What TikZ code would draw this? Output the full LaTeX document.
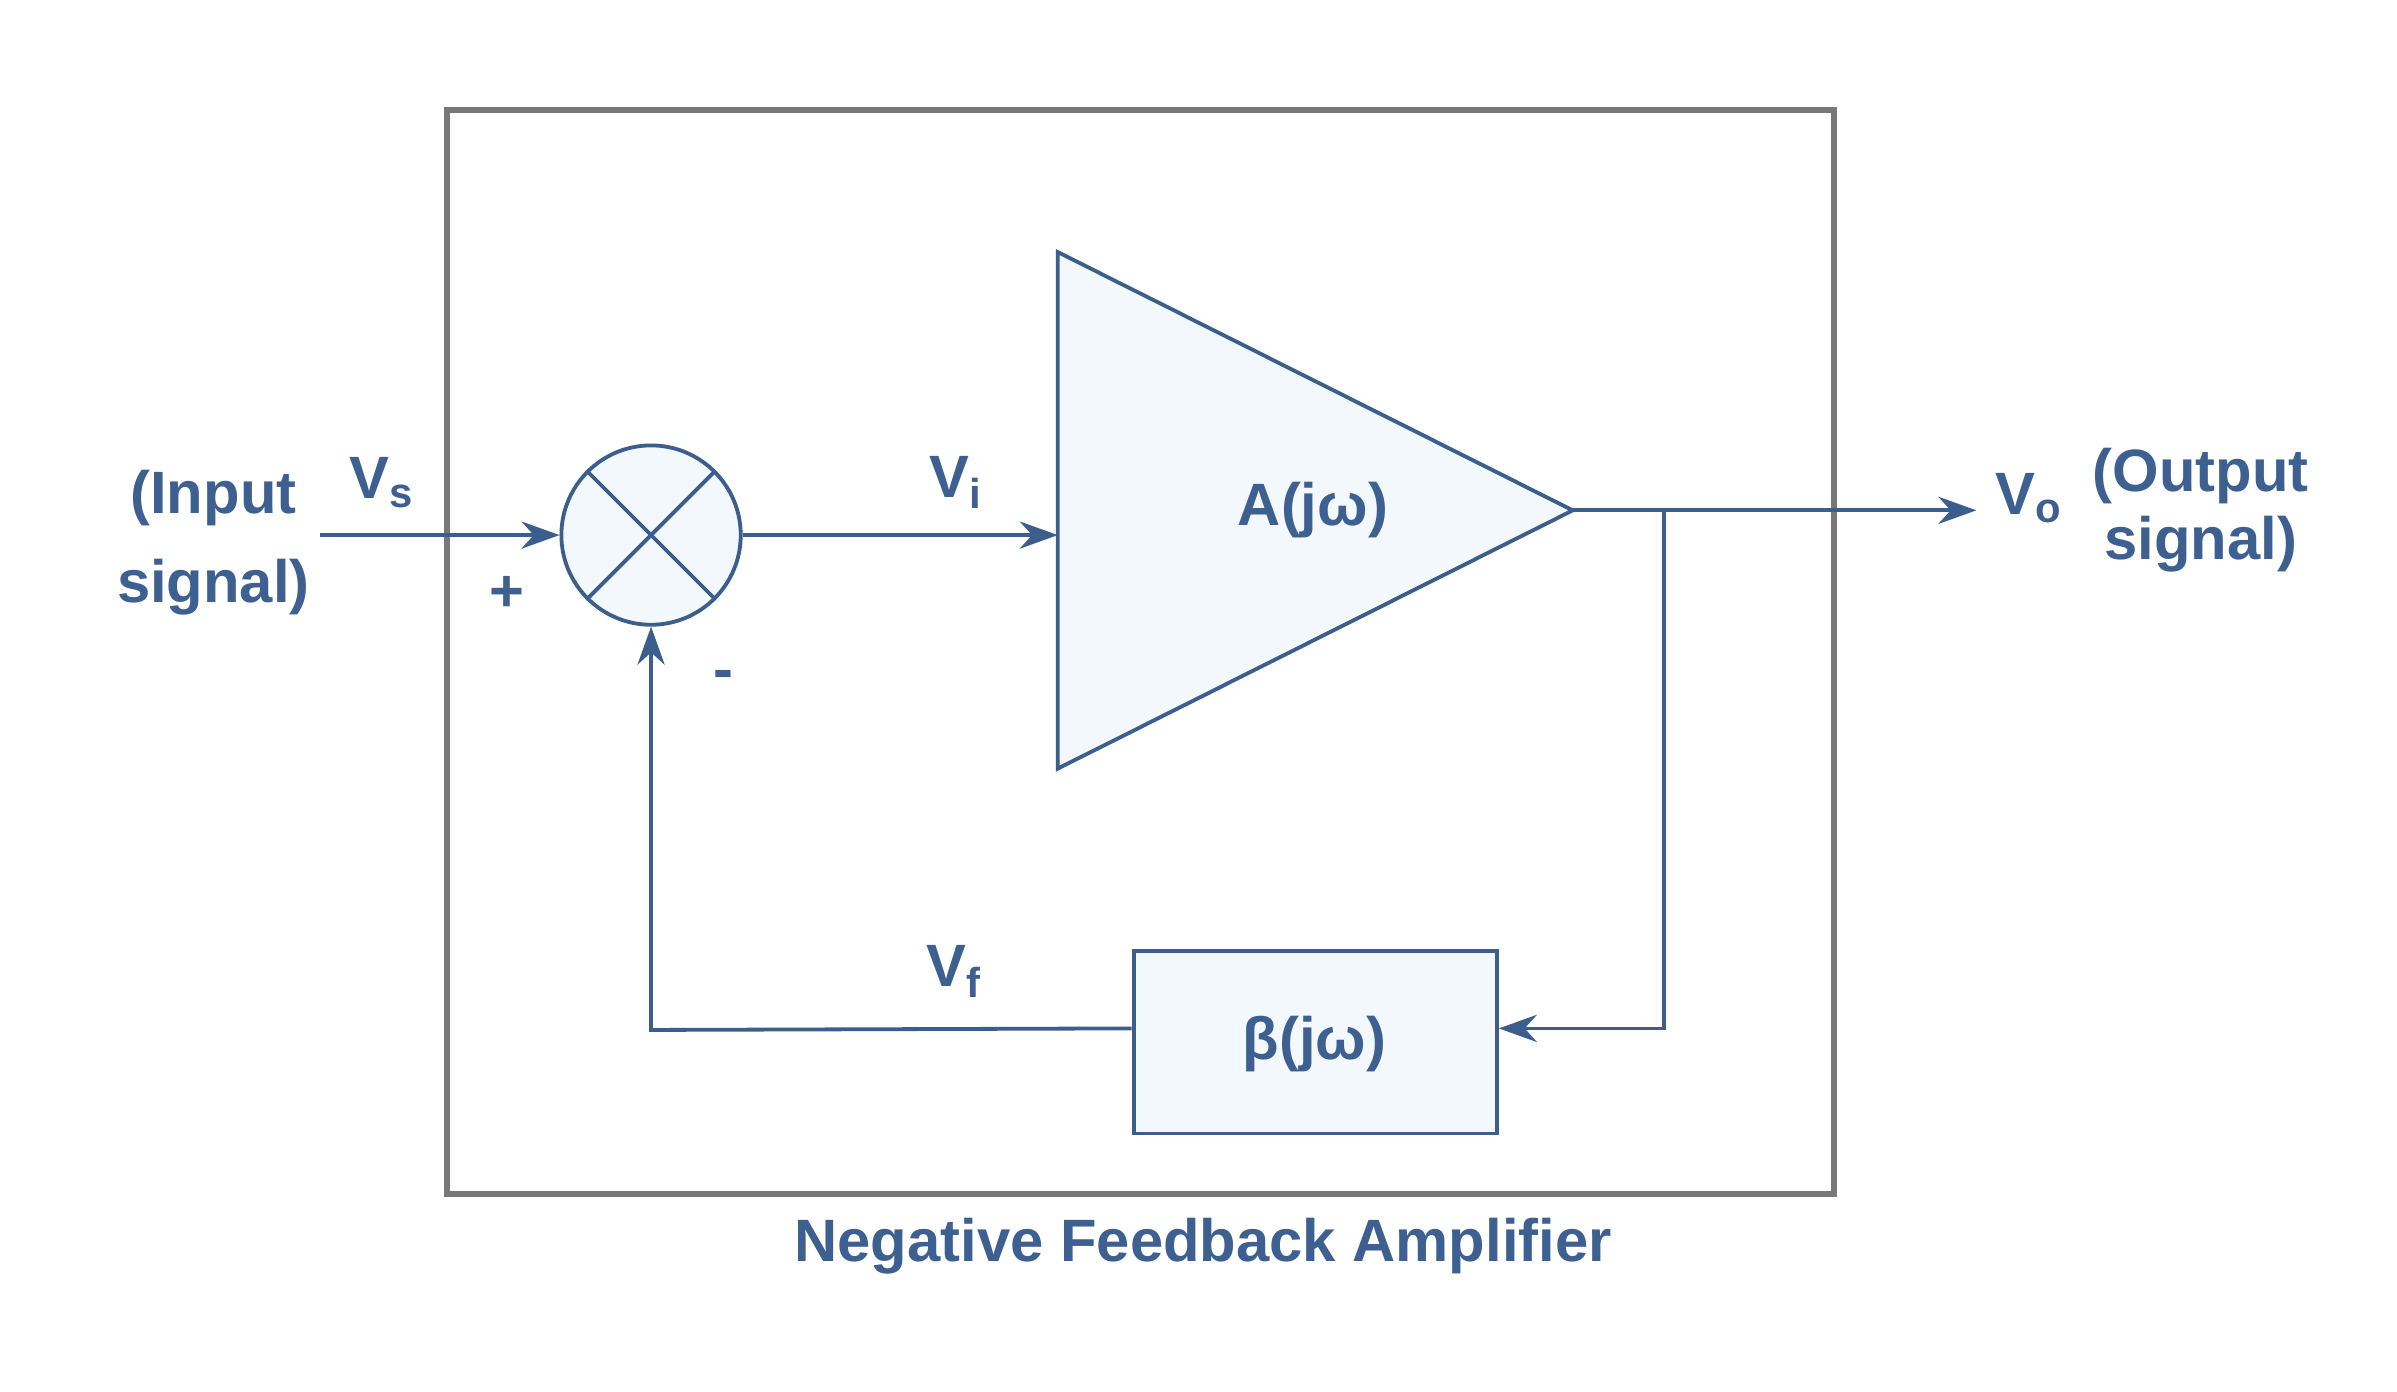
\documentclass[tikz,border=0pt]{standalone}
\usepackage{fontspec}
\setmainfont{Liberation Sans}
\usetikzlibrary{arrows.meta}
\definecolor{ln}{HTML}{3B5E8C}
\definecolor{tx}{HTML}{3D6090}
\definecolor{fl}{HTML}{F3F8FD}
\tikzset{
  wire/.style={draw=ln,line width=1.4pt},
  arr/.style={wire,-{Stealth[length=14pt,width=10pt]}},
  lbl/.style={text=tx,font=\fontsize{22}{27}\selectfont\bfseries,align=center}
}
\begin{document}
\begin{tikzpicture}[x=0.02cm,y=-0.02cm]
\useasboundingbox[fill=white] (0,0) rectangle (1550,900);
\draw[gray!95!black,line width=2.4pt] (289,71) rectangle (1186,772);
\node[draw=ln,fill=fl,circle,line width=1.4pt,minimum size=2.32cm,inner sep=0] (sum) at (421,346) {};
\draw[wire] (sum.45) -- (sum.225) (sum.135) -- (sum.315);
\draw[wire,fill=fl] (684,163) coordinate (t1) -- (684,497) -- (1017,330) coordinate (tout) -- cycle;
\node[lbl] (amp) at (849,330) {A(jω)};
\coordinate (tin) at (684,346);
\node[draw=ln,fill=fl,line width=1.4pt,minimum width=4.7cm,minimum height=2.36cm] (beta) at (850.5,674) {};
\node[lbl] at (850,675) {β(jω)};
\coordinate (in) at (207,346);
\coordinate (out) at (1278,330);
\coordinate (br) at (1076,330);
\coordinate (bb) at (1076,665);
\coordinate (fl1) at (421,666);
\draw[arr] (in) -- (sum.west);
\draw[arr] (sum.east) -- (tin);
\draw[arr] (tout) -- (out);
\draw[arr] (br) -- (bb) -- (beta.east |- bb);
\draw[arr] (beta.west |- bb) -- (fl1) -- (sum.south);
\node[lbl] at (138,322) {(Input};
\node[lbl] at (138,380) {signal)};
\node[lbl] at (247,312) {V\textsubscript{s}};
\node[lbl] at (328,384) {+};
\node[lbl] at (468,440) {-};
\node[lbl] at (618,312) {V\textsubscript{i}};
\node[lbl] at (1312,322) {V\textsubscript{o}};
\node[lbl] at (1423,308) {(Output};
\node[lbl] at (1423,352) {signal)};
\node[lbl] at (617,628) {V\textsubscript{f}};
\node[lbl] at (778,806) {Negative Feedback Amplifier};
\end{tikzpicture}
\end{document}
